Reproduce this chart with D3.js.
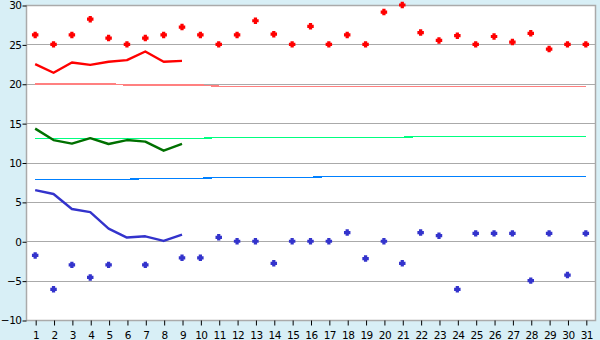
<!DOCTYPE html>
<html>
<head>
<meta charset="utf-8">
<script src="https://cdn.jsdelivr.net/npm/d3@7"></script>
<style>
  body { margin: 0; background: #d8eff6; }
  svg { display: block; font-family: "DejaVu Sans", Verdana, sans-serif; }
</style>
</head>
<body>
<svg id="chart"></svg>
<script>
const days = d3.range(1, 32);
const yTicks = [-10, -5, 0, 5, 10, 15, 20, 25, 30];

// daily max / min (markers)
const maxTemp = [26.2, 25.0, 26.2, 28.2, 25.8, 25.0, 25.8, 26.2, 27.2, 26.2,
  25.0, 26.2, 28.0, 26.3, 25.0, 27.3, 25.0, 26.2, 25.0, 29.1,
  30.0, 26.5, 25.5, 26.1, 25.0, 26.0, 25.3, 26.4, 24.4, 25.0, 25.0];
const minTemp = [-1.8, -6.1, -3.0, -4.6, -3.0, null, -3.0, null, -2.1, -2.1,
  0.5, 0.0, 0.0, -2.8, 0.0, 0.0, 0.0, 1.1, -2.2, 0.0,
  -2.8, 1.1, 0.7, -6.1, 1.0, 1.0, 1.0, -5.0, 1.0, -4.3, 1.0];

// running averages (first 9 days)
const avgMax = [22.5, 21.4, 22.7, 22.4, 22.8, 23.0, 24.1, 22.8, 22.9];
const avgMean = [14.3, 12.85, 12.4, 13.1, 12.35, 12.85, 12.65, 11.5, 12.35];
const avgMin = [6.5, 6.0, 4.1, 3.7, 1.6, 0.47, 0.63, 0.04, 0.85];

// climate normals per day
const normMax = [20.0, 20.0, 20.0, 20.0, 20.0, 19.84, 19.84, 19.84, 19.84, 19.84,
  19.68, 19.68, 19.68, 19.68, 19.68, 19.68, 19.68, 19.68, 19.68, 19.68,
  19.68, 19.68, 19.68, 19.68, 19.68, 19.68, 19.68, 19.68, 19.68, 19.68, 19.68];
const normMean = [13.05, 13.05, 13.05, 13.05, 13.05, 13.05, 13.05, 13.05, 13.05, 13.05,
  13.19, 13.19, 13.19, 13.19, 13.19, 13.19, 13.19, 13.19, 13.19, 13.19, 13.19,
  13.32, 13.32, 13.32, 13.32, 13.32, 13.32, 13.32, 13.32, 13.32, 13.32];
const normMin = [7.85, 7.85, 7.85, 7.85, 7.85, 7.85, 7.98, 7.98, 7.98, 7.98,
  8.11, 8.11, 8.11, 8.11, 8.11, 8.11, 8.24, 8.24, 8.24, 8.24, 8.24,
  8.24, 8.24, 8.24, 8.24, 8.24, 8.24, 8.24, 8.24, 8.24, 8.24];

const width = 600, height = 340;
const plotLeft = 26, plotRight = 595, plotTop = 5, plotBottom = 320;

const svg = d3.select('#chart').attr('width', width).attr('height', height);

svg.append('rect')
  .attr('width', width).attr('height', height)
  .attr('fill', '#d8eff6');

svg.append('rect')
  .attr('x', plotLeft).attr('y', plotTop)
  .attr('width', plotRight - plotLeft).attr('height', plotBottom - plotTop)
  .attr('fill', '#fff');

const x = d3.scalePoint().domain(days).range([plotLeft, plotRight]).padding(0.5);
const y = d3.scaleLinear().domain([-10, 30]).range([plotBottom, plotTop]);

// grid
svg.append('g')
  .selectAll('line')
  .data(yTicks)
  .enter()
  .append('line')
  .attr('x1', plotLeft).attr('x2', plotRight)
  .attr('y1', d => Math.round(y(d)) + 0.5)
  .attr('y2', d => Math.round(y(d)) + 0.5)
  .attr('stroke', '#aaa');

// frame
svg.append('rect')
  .attr('x', plotLeft + 0.5).attr('y', plotTop + 0.5)
  .attr('width', plotRight - plotLeft).attr('height', plotBottom - plotTop)
  .attr('fill', 'none')
  .attr('stroke', '#aaa')
  .attr('stroke-width', 1.5);

// axes
let yAxis = svg.append('g')
  .attr('transform', `translate(${plotLeft + 0.5},0.5)`)
  .call(d3.axisLeft(y).tickValues(yTicks).tickSize(4).tickPadding(1));
let xAxis = svg.append('g')
  .attr('transform', `translate(0.5,${plotBottom + 0.5})`)
  .call(d3.axisBottom(x).tickSize(5).tickPadding(6));

[yAxis, xAxis].forEach(ax => {
  ax.select('.domain').remove();
  ax.selectAll('line').attr('stroke', '#000');
  ax.selectAll('text')
    .attr('fill', '#000')
    .style('font-size', '10.5px')
    .style('letter-spacing', '-0.5px')
    .style('font-family', '"DejaVu Sans", Verdana, sans-serif');
});

const line = d3.line()
  .defined(d => d != null)
  .x((d, i) => x(days[i]))
  .y(d => y(d));

// normals (thin)
[[normMax, '#ff8080'], [normMean, '#00ff80'], [normMin, '#0080ff']].forEach(([data, color]) => {
  svg.append('path')
    .datum(data)
    .attr('d', line)
    .attr('fill', 'none')
    .attr('stroke', color)
    .attr('stroke-width', 1.5)
    .attr('shape-rendering', 'crispEdges');
});

// running averages (thick)
[[avgMax, '#ff0000'], [avgMean, '#007000'], [avgMin, '#3333cc']].forEach(([data, color]) => {
  svg.append('path')
    .datum(data)
    .attr('d', line)
    .attr('fill', 'none')
    .attr('stroke', color)
    .attr('stroke-width', 2.4)
    .attr('stroke-linejoin', 'round');
});

// markers: small chunky plus
const plusBlob = {
  draw(ctx, size) {
    const a = Math.sqrt(size) / 2, b = a * 0.5;
    ctx.moveTo(-b, -a); ctx.lineTo(b, -a); ctx.lineTo(b, -b); ctx.lineTo(a, -b);
    ctx.lineTo(a, b); ctx.lineTo(b, b); ctx.lineTo(b, a); ctx.lineTo(-b, a);
    ctx.lineTo(-b, b); ctx.lineTo(-a, b); ctx.lineTo(-a, -b); ctx.lineTo(-b, -b);
    ctx.closePath();
  }
};
const marker = d3.symbol().type(plusBlob).size(42);
[[maxTemp, '#ff0000'], [minTemp, '#3333cc']].forEach(([data, color]) => {
  svg.append('g')
    .selectAll('path')
    .data(data.map((v, i) => ({ day: days[i], v })).filter(d => d.v != null))
    .enter()
    .append('path')
    .attr('d', marker)
    .attr('transform', d => `translate(${x(d.day)},${y(d.v)})`)
    .attr('fill', color);
});
</script>
</body>
</html>
